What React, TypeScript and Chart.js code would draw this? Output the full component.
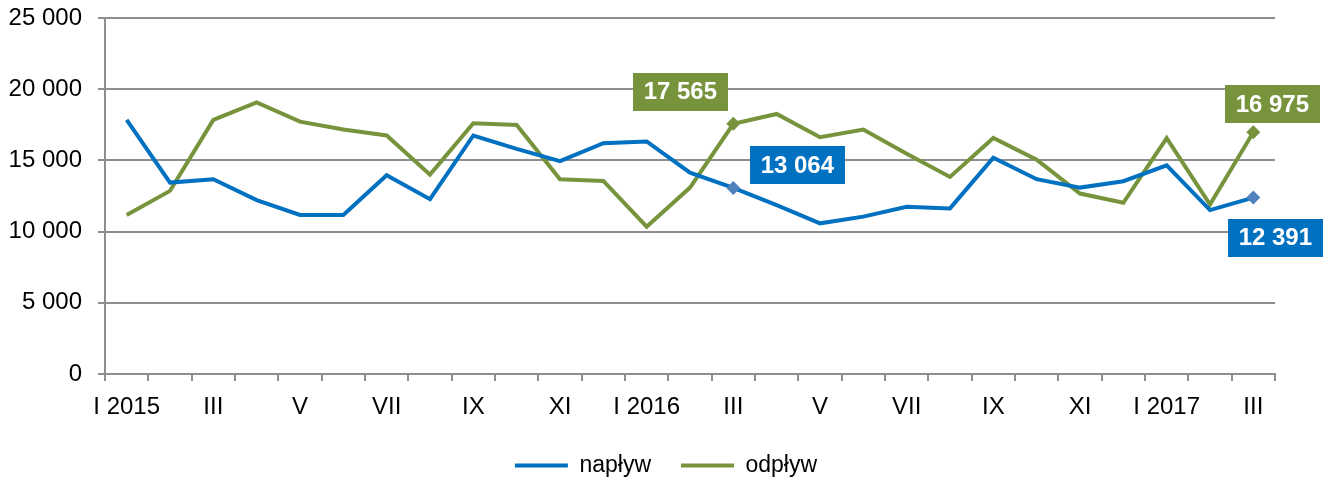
import React, { useEffect, useRef } from "react";
import { Chart, registerables } from "chart.js";

Chart.register(...registerables);

const categories = [
  "I 2015", "II", "III", "IV", "V", "VI", "VII", "VIII", "IX", "X", "XI", "XII",
  "I 2016", "II", "III", "IV", "V", "VI", "VII", "VIII", "IX", "X", "XI", "XII",
  "I 2017", "II", "III",
];

const naplyw = [
  17840, 13440, 13680, 12210, 11165, 11165, 13960, 12280, 16750, 15810, 14950, 16210,
  16330, 14140, 13064, 11860, 10580, 11050, 11745, 11630, 15190, 13680, 13090, 13540,
  14650, 11510, 12391,
];

const odplyw = [
  11165, 12860, 17840, 19070, 17725, 17165, 16750, 14000, 17605, 17490, 13680, 13560,
  10350, 13090, 17565, 18260, 16630, 17165, 15465, 13840, 16580, 15050, 12670, 12025,
  16560, 11905, 16975,
];

const seriesNames = ["napływ", "odpływ"];
const labeledIndices = [14, 26];

const BLUE = "#0070C0";
const BLUE_MARK = "#4F81BD";
const GREEN = "#77933C";
const GRID = "#8e8e8e";
const FONT = "'Liberation Sans', Arial, sans-serif";

const fmt = (v: number) => String(Math.round(v)).replace(/\B(?=(\d{3})+(?!\d))/g, " ");

// label box offsets relative to the point (style only)
const labelOffsets: Record<string, [number, number]> = {
  "1-14": [-53, -32],
  "0-14": [64, -23],
  "1-26": [19, -28],
  "0-26": [22, 40],
};

const dataLabelPlugin = {
  id: "boxLabels",
  afterDatasetsDraw(chart: any) {
    const ctx = chart.ctx;
    ctx.save();
    ctx.font = `bold 24px ${FONT}`;
    ctx.textAlign = "center";
    ctx.textBaseline = "middle";
    chart.data.datasets.forEach((ds: any, di: number) => {
      const meta = chart.getDatasetMeta(di);
      labeledIndices.forEach((idx) => {
        const pt = meta.data[idx];
        if (!pt) return;
        const off = labelOffsets[`${di}-${idx}`] || [0, -30];
        const cx = pt.x + off[0];
        const cy = pt.y + off[1];
        const text = fmt(ds.data[idx]);
        const w = ctx.measureText(text).width + 22;
        const h = 38;
        ctx.fillStyle = ds.borderColor;
        ctx.fillRect(Math.round(cx - w / 2), Math.round(cy - h / 2), Math.round(w), h);
        ctx.fillStyle = "#ffffff";
        ctx.fillText(text, cx, cy + 1);
      });
    });
    ctx.restore();
  },
};

export default function App() {
  const ref = useRef<HTMLCanvasElement>(null);

  useEffect(() => {
    if (!ref.current) return;
    const radii = categories.map((_, i) => (labeledIndices.includes(i) ? 7 : 0));
    const chart = new Chart(ref.current, {
      type: "line",
      data: {
        labels: categories,
        datasets: [
          {
            label: seriesNames[0],
            data: naplyw,
            borderColor: BLUE,
            backgroundColor: BLUE,
            borderWidth: 4,
            tension: 0,
            pointStyle: "rectRot",
            pointRadius: radii,
            pointHoverRadius: radii,
            pointBackgroundColor: BLUE_MARK,
            pointBorderColor: BLUE_MARK,
            pointBorderWidth: 0,
          },
          {
            label: seriesNames[1],
            data: odplyw,
            borderColor: GREEN,
            backgroundColor: GREEN,
            borderWidth: 4,
            tension: 0,
            pointStyle: "rectRot",
            pointRadius: radii,
            pointHoverRadius: radii,
            pointBackgroundColor: GREEN,
            pointBorderColor: GREEN,
            pointBorderWidth: 0,
          },
        ],
      },
      options: {
        responsive: false,
        animation: false,
        devicePixelRatio: 1,
        layout: { padding: { top: 18, right: 0, left: 0, bottom: -5 } },
        scales: {
          x: {
            offset: true,
            grid: {
              offset: true,
              drawOnChartArea: false,
              drawTicks: true,
              tickLength: 7,
              color: GRID,
              lineWidth: 2,
            },
            border: { color: GRID, width: 2 },
            ticks: {
              autoSkip: false,
              maxRotation: 0,
              minRotation: 0,
              padding: 12,
              color: "#000",
              font: { family: FONT, size: 24 },
              callback: (_v: any, i: number) => (i % 2 === 0 ? categories[i] : ""),
            },
            afterFit: (scale: any) => {
              scale.height = 50;
              scale.paddingLeft = 0;
              scale.paddingRight = 0;
            },
          },
          y: {
            min: 0,
            max: 25000,
            grid: { color: GRID, lineWidth: 2, tickLength: 7 },
            border: { color: GRID, width: 2 },
            ticks: {
              stepSize: 5000,
              padding: 16,
              color: "#000",
              font: { family: FONT, size: 24 },
              callback: (v: any) => fmt(Number(v)),
            },
            afterFit: (scale: any) => {
              scale.width = 105;
              scale.paddingTop = 0;
              scale.paddingBottom = 0;
            },
          },
          yRight: {
            position: "right",
            display: true,
            grid: { display: false, drawTicks: false },
            border: { display: false },
            ticks: { display: false },
            afterFit: (scale: any) => {
              scale.width = 57;
              scale.paddingTop = 0;
              scale.paddingBottom = 0;
            },
          },
        },
        plugins: {
          legend: {
            position: "bottom",
            labels: {
              boxWidth: 53,
              boxHeight: 4,
              padding: 30,
              color: "#000",
              font: { family: FONT, size: 23, lineHeight: 1 },
              generateLabels: (ch: any) =>
                ch.data.datasets.map((ds: any, i: number) => ({
                  text: ds.label,
                  fillStyle: ds.borderColor,
                  strokeStyle: ds.borderColor,
                  lineWidth: 0,
                  hidden: false,
                  datasetIndex: i,
                  fontColor: "#000",
                })),
            },
          },
          tooltip: { enabled: false },
        },
      },
      plugins: [dataLabelPlugin],
    });
    return () => chart.destroy();
  }, []);

  return (
    <div style={{ position: "fixed", left: 0, top: 0, width: 1332, height: 482 }}>
      <canvas ref={ref} width={1332} height={482} style={{ width: 1332, height: 482 }} />
    </div>
  );
}
